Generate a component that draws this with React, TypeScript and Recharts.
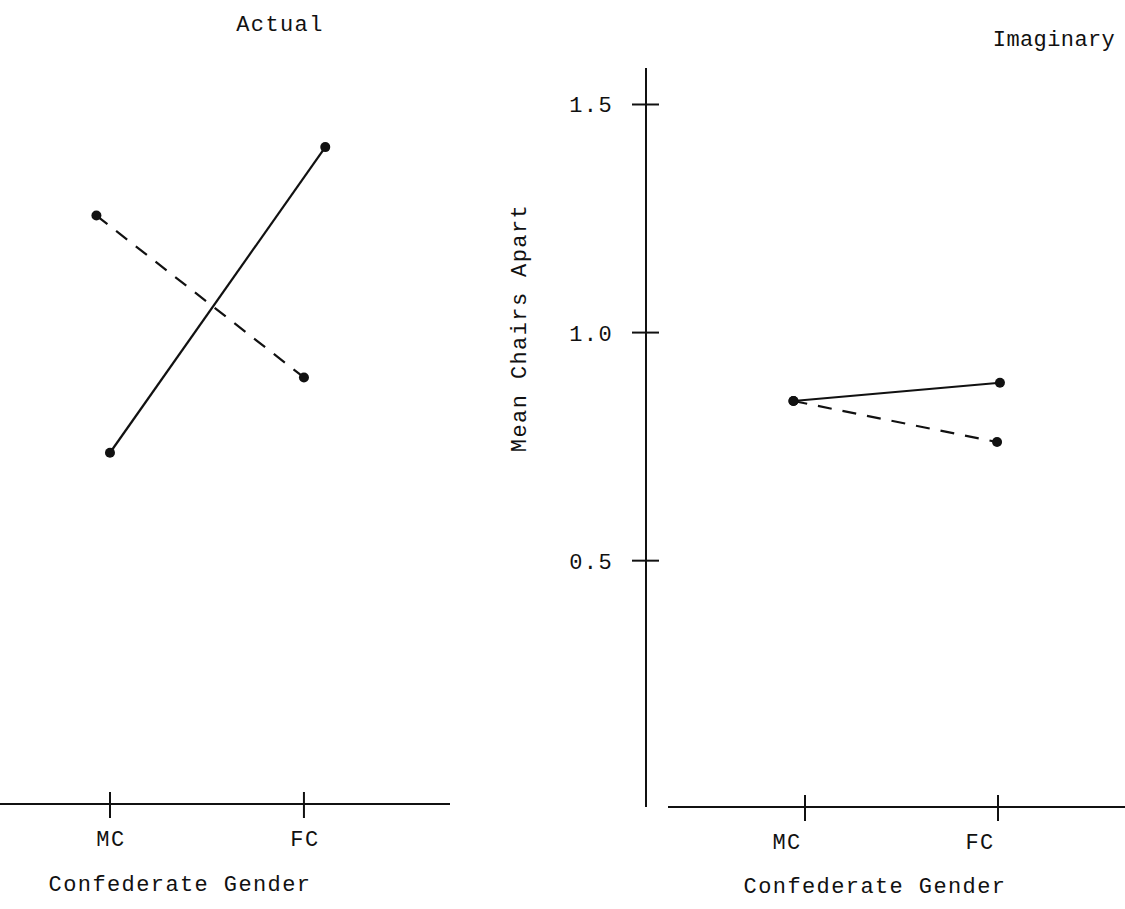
import React from 'react';
import { LineChart, Line, XAxis, YAxis } from 'recharts';

// Categories on the x axis
const categories = ['MC', 'FC'];
const categoryX = [1, 2];

// Actual panel (x in category units, y in mean chairs apart)
const actualSolidX = [1.0, 2.11];
const actualSolidY = [0.73, 1.4];
const actualDashedX = [0.93, 2.0];
const actualDashedY = [1.25, 0.895];

// Imaginary panel
const imagSolidX = [0.94, 2.01];
const imagSolidY = [0.85, 0.89];
const imagDashedX = [0.94, 1.995];
const imagDashedY = [0.85, 0.76];

// Y axis ticks
const yTicks = [0.5, 1.0, 1.5];
const yTickLabels = ['0.5', '1.0', '1.5'];

const panelTitles = ['Actual', 'Imaginary'];
const xAxisTitle = 'Confederate Gender';
const yAxisTitle = 'Mean Chairs Apart';

const FONT = '"Liberation Mono", "DejaVu Sans Mono", monospace';
const INK = '#111';
const FS = 22;
const LS = 1.4;

const toPoints = (xs: number[], ys: number[]) => xs.map((x, i) => ({ x, y: ys[i] }));

const XTick = (props: any) => {
  const { x, y, payload, labelShift = 0 } = props;
  const idx = categoryX.indexOf(payload.value);
  return (
    <g>
      <line x1={x} x2={x} y1={y - 12} y2={y + 14} stroke={INK} strokeWidth={2} />
      <text x={x + labelShift} y={y + 42} textAnchor="middle" fontFamily={FONT} fontSize={FS} letterSpacing={LS} fill={INK}>
        {idx >= 0 ? categories[idx] : ''}
      </text>
    </g>
  );
};

const YTick = (props: any) => {
  const { x, y, payload } = props;
  const idx = yTicks.indexOf(payload.value);
  return (
    <g>
      <line x1={x - 14} x2={x + 13} y1={y} y2={y} stroke={INK} strokeWidth={2} />
      <text x={x - 33} y={y + 8} textAnchor="end" fontFamily={FONT} fontSize={FS} letterSpacing={LS} fill={INK}>
        {idx >= 0 ? yTickLabels[idx] : ''}
      </text>
    </g>
  );
};

const Y_DOMAIN: [number, number] = [-0.04, 1.58];
const dotStyle = { r: 5, fill: INK, stroke: INK, strokeWidth: 0 };

export default function App() {
  return (
    <div style={{ position: 'absolute', left: 0, top: 0, width: 1125, height: 909, background: '#fff', overflow: 'hidden' }}>
      {/* Left panel: Actual */}
      <div style={{ position: 'absolute', left: 0, top: 0 }}>
        <LineChart width={460} height={909} margin={{ top: 65, right: 10, bottom: 45, left: 0 }}>
          <XAxis
            type="number"
            dataKey="x"
            domain={[0.433, 2.753]}
            ticks={categoryX}
            allowDataOverflow
            height={60}
            tickSize={0}
            tickMargin={0}
            tick={<XTick labelShift={1} />}
            axisLine={{ stroke: INK, strokeWidth: 2 }}
          />
          <YAxis hide type="number" domain={Y_DOMAIN} allowDataOverflow />
          <Line data={toPoints(actualSolidX, actualSolidY)} dataKey="y" stroke={INK} strokeWidth={2.2} dot={dotStyle} activeDot={false} isAnimationActive={false} />
          <Line data={toPoints(actualDashedX, actualDashedY)} dataKey="y" stroke={INK} strokeWidth={2.2} strokeDasharray="14 11" dot={dotStyle} activeDot={false} isAnimationActive={false} />
        </LineChart>
      </div>

      {/* Right panel: Imaginary */}
      <div style={{ position: 'absolute', left: 480, top: 0 }}>
        <LineChart width={645} height={909} margin={{ top: 68, right: 0, bottom: 42, left: 86 }}>
          <XAxis
            type="number"
            dataKey="x"
            domain={[0.176, 2.658]}
            ticks={categoryX}
            allowDataOverflow
            height={60}
            tickSize={0}
            tickMargin={0}
            tick={<XTick labelShift={-18} />}
            axisLine={{ stroke: INK, strokeWidth: 2, strokeDasharray: '0 22 2000' }}
          />
          <YAxis
            type="number"
            domain={Y_DOMAIN}
            ticks={yTicks}
            allowDataOverflow
            width={80}
            tickSize={0}
            tickMargin={0}
            tick={<YTick />}
            axisLine={{ stroke: INK, strokeWidth: 2 }}
          />
          <Line data={toPoints(imagSolidX, imagSolidY)} dataKey="y" stroke={INK} strokeWidth={2.2} dot={dotStyle} activeDot={false} isAnimationActive={false} />
          <Line data={toPoints(imagDashedX, imagDashedY)} dataKey="y" stroke={INK} strokeWidth={2.2} strokeDasharray="14 11" dot={dotStyle} activeDot={false} isAnimationActive={false} />
        </LineChart>
      </div>

      {/* Titles */}
      <svg width={1125} height={909} style={{ position: 'absolute', left: 0, top: 0, pointerEvents: 'none' }}>
        <text x={280} y={31} textAnchor="middle" fontFamily={FONT} fontSize={FS} letterSpacing={LS} fill={INK}>{panelTitles[0]}</text>
        <text x={1054} y={46} textAnchor="middle" fontFamily={FONT} fontSize={FS} letterSpacing={0.4} fill={INK}>{panelTitles[1]}</text>
        <text x={180} y={891} textAnchor="middle" fontFamily={FONT} fontSize={FS} letterSpacing={LS} fill={INK}>{xAxisTitle}</text>
        <text x={875} y={893} textAnchor="middle" fontFamily={FONT} fontSize={FS} letterSpacing={LS} fill={INK}>{xAxisTitle}</text>
        <text x={0} y={0} transform="translate(526,328) rotate(-90)" textAnchor="middle" fontFamily={FONT} fontSize={FS} letterSpacing={LS} fill={INK}>{yAxisTitle}</text>
      </svg>
    </div>
  );
}
